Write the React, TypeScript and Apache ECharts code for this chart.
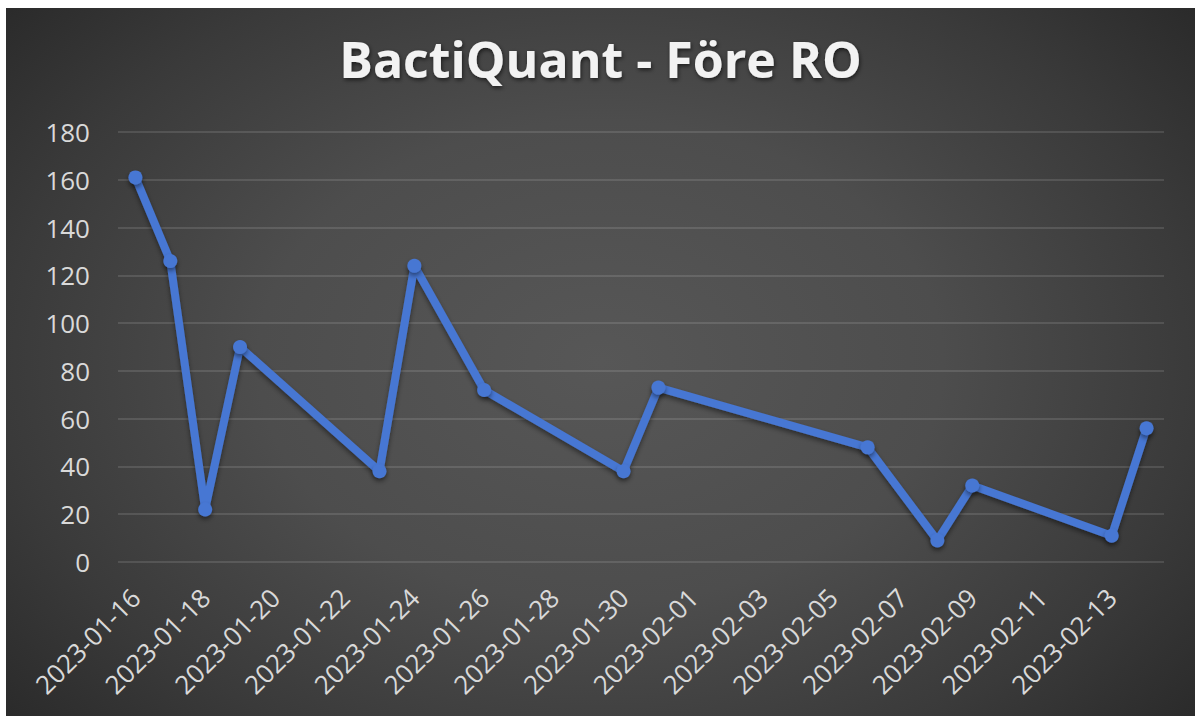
import React, { useEffect, useRef } from "react";
import * as echarts from "echarts";

const sampleDates: string[] = [
  "2023-01-16", "2023-01-17", "2023-01-18", "2023-01-19", "2023-01-23",
  "2023-01-24", "2023-01-26", "2023-01-30", "2023-01-31", "2023-02-06",
  "2023-02-08", "2023-02-09", "2023-02-13", "2023-02-14",
];
const bactiQuant: number[] = [161, 126, 22, 90, 38, 124, 72, 38, 73, 48, 9, 32, 11, 56];

const axisStart = "2023-01-16";
const axisEnd = "2023-02-14";
const yTicks = { min: 0, max: 180, interval: 20 };
const title = "BactiQuant - Före RO";

function dayList(start: string, end: string): string[] {
  const out: string[] = [];
  const d = new Date(start + "T00:00:00Z");
  const e = new Date(end + "T00:00:00Z");
  while (d.getTime() <= e.getTime()) {
    out.push(d.toISOString().slice(0, 10));
    d.setUTCDate(d.getUTCDate() + 1);
  }
  return out;
}

const FONT = "'Open Sans', 'DejaVu Sans', sans-serif";

export default function App() {
  const ref = useRef<HTMLDivElement>(null);
  useEffect(() => {
    if (!ref.current) return;
    const chart = echarts.init(ref.current, undefined, { renderer: "svg" });
    const categories = dayList(axisStart, axisEnd);
    chart.setOption({
      animation: false,
      backgroundColor: "transparent",
      title: {
        text: title,
        left: "center",
        top: 21,
        textStyle: {
          color: "#f2f2f2",
          fontFamily: FONT,
          fontWeight: "bold",
          fontSize: 50,
          textShadowColor: "rgba(0,0,0,0.6)",
          textShadowBlur: 4,
          textShadowOffsetX: 1,
          textShadowOffsetY: 2,
        },
      },
      grid: { left: 112, right: 31, top: 124, bottom: 154, containLabel: false },
      xAxis: {
        type: "category",
        data: categories,
        boundaryGap: true,
        axisLine: { show: false },
        axisTick: { show: false },
        splitLine: { show: false },
        axisLabel: {
          interval: 1,
          rotate: 45,
          margin: 31,
          color: "#d9d9d9",
          fontFamily: FONT,
          fontSize: 26,
        },
      },
      yAxis: {
        type: "value",
        min: yTicks.min,
        max: yTicks.max,
        interval: yTicks.interval,
        axisLine: { show: false },
        axisTick: { show: false },
        splitLine: { lineStyle: { color: "rgba(255,255,255,0.16)", width: 1.5 } },
        axisLabel: {
          margin: 28,
          color: "#d9d9d9",
          fontFamily: FONT,
          fontSize: 26,
        },
      },
      series: [
        {
          type: "line",
          data: sampleDates.map((d, i) => [d, bactiQuant[i]]),
          symbol: "circle",
          symbolSize: 14,
          lineStyle: {
            color: "#4777d3",
            width: 8,
            shadowColor: "rgba(0,0,0,0.45)",
            shadowBlur: 5,
            shadowOffsetY: 3,
          },
          itemStyle: {
            color: "#4777d3",
            shadowColor: "rgba(0,0,0,0.45)",
            shadowBlur: 5,
            shadowOffsetY: 3,
          },
        },
      ],
    });
    return () => chart.dispose();
  }, []);
  return (
    <div
      ref={ref}
      style={{
        position: "absolute",
        left: 6,
        top: 8,
        width: 1189,
        height: 708,
        background:
          "radial-gradient(ellipse 72% 85% at 50% 50%, #575757 0%, #4d4d4d 40%, #3a3a3a 70%, #242424 100%)",
      }}
    />
  );
}
